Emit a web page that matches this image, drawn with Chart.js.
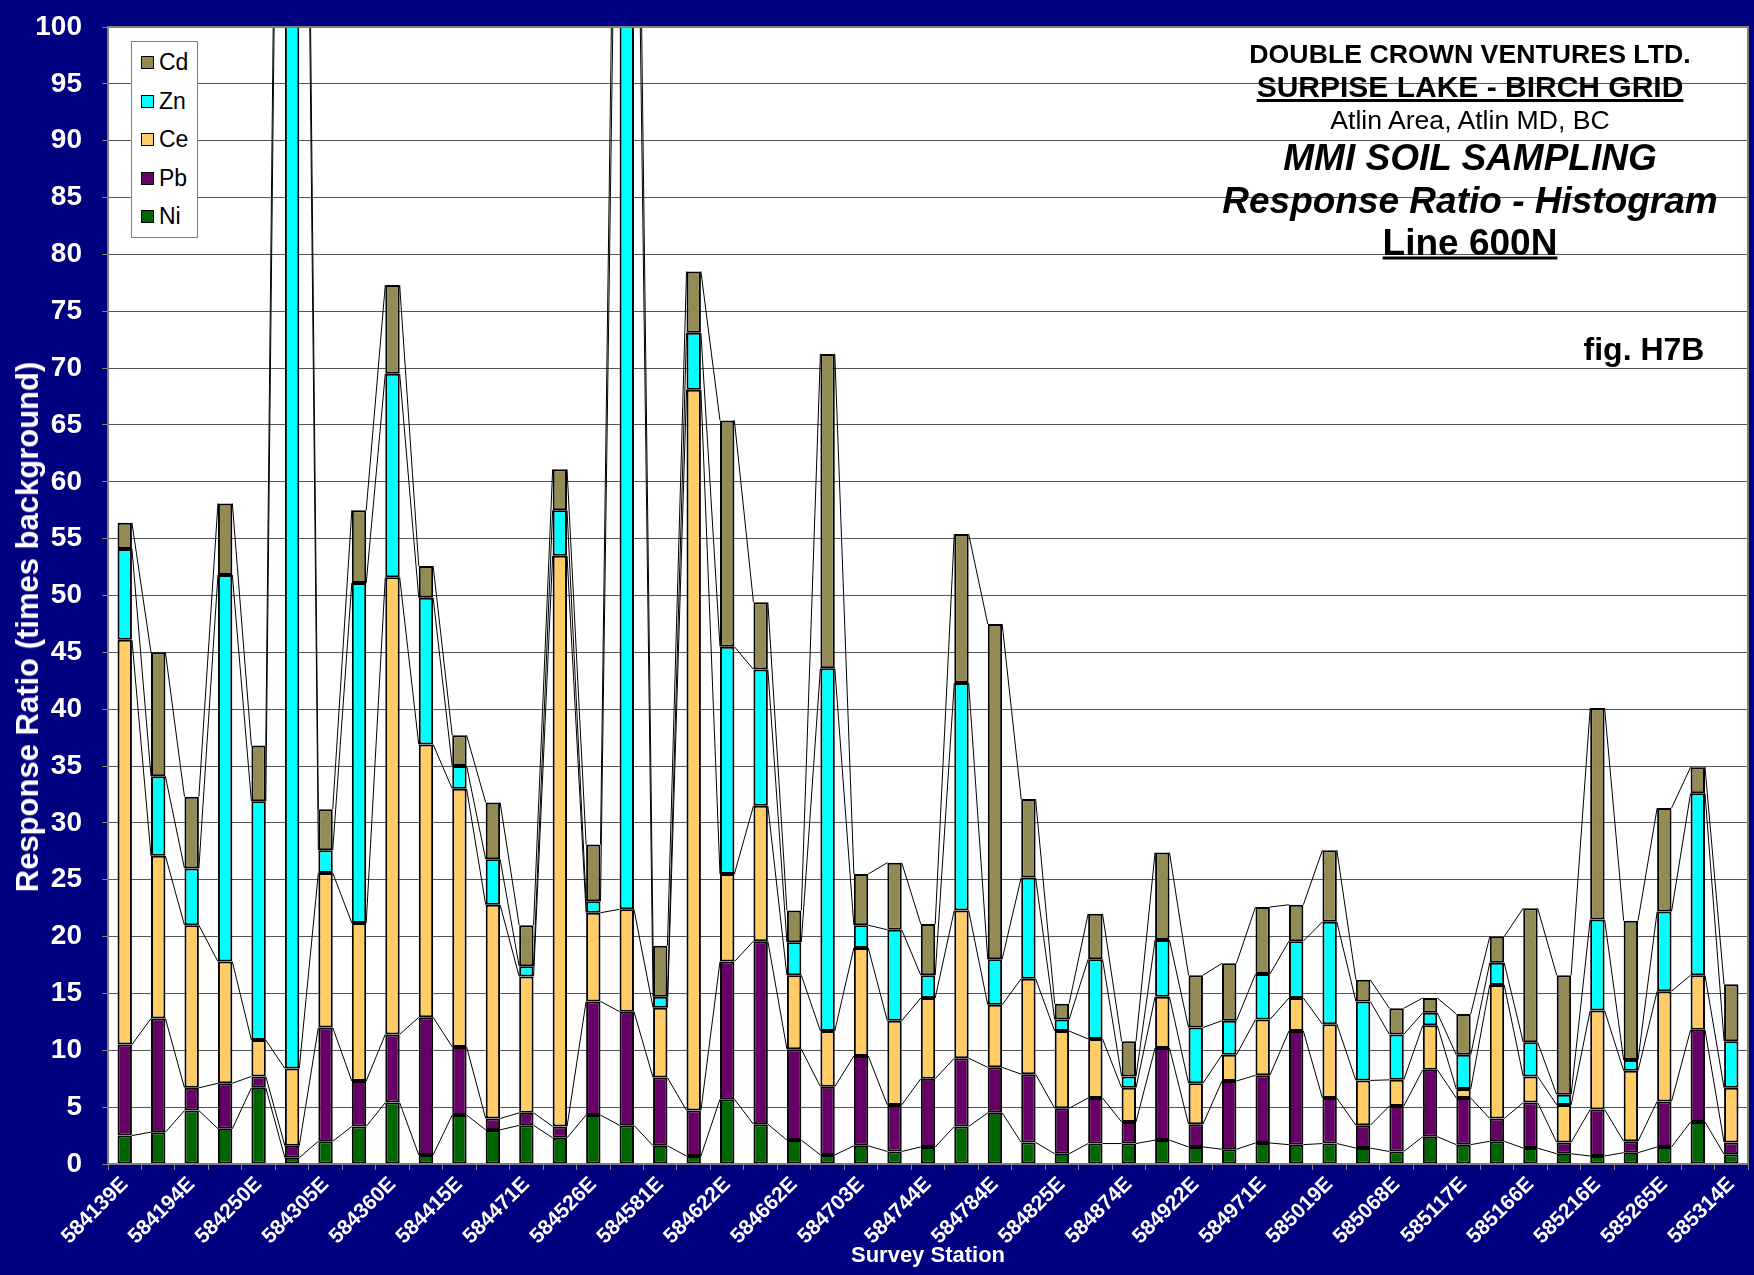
<!DOCTYPE html>
<html>
<head>
<meta charset="utf-8">
<script src="https://cdn.jsdelivr.net/npm/chart.js@4/dist/chart.umd.min.js"></script>
<style>
  body { margin: 0; background: #000080; }
  #wrap { position: relative; width: 1754px; height: 1275px; overflow: hidden; font-family: Arial, "Liberation Sans", sans-serif; }
  #myChart { position: absolute; left: 0; top: 0; }
  .ytitle {
    position: absolute; left: 28px; top: 627px; color: #fff; font-weight: bold; font-size: 31px;
    white-space: nowrap; transform: translate(-50%, -50%) rotate(-90deg);
  }
  .legend {
    position: absolute; left: 131px; top: 41px; width: 65px; height: 195px;
    background: #fff; border: 1px solid #808080;
  }
  .legend .item { position: absolute; left: 9px; height: 26px; line-height: 26px; font-size: 23px; color: #000; white-space: nowrap; }
  .legend .box { display: inline-block; width: 11px; height: 11px; border: 1.5px solid #000; margin-right: 5px; vertical-align: 1px; }
  .t { position: absolute; transform: translate(-50%, -50%); white-space: nowrap; color: #000; line-height: 1; }
</style>
</head>
<body>
<div id="wrap">
  <canvas id="myChart" width="1754" height="1275"></canvas>
  <div class="ytitle">Response Ratio (times background)</div>
  <div class="legend" id="legend"></div>
  <div class="t" style="left:1470px;top:54px;font-size:26.7px;font-weight:bold;">DOUBLE CROWN VENTURES LTD.</div>
  <div class="t" style="left:1470px;top:87px;font-size:30px;font-weight:bold;text-decoration:underline;">SURPISE LAKE - BIRCH GRID</div>
  <div class="t" style="left:1470px;top:120px;font-size:26.6px;">Atlin Area, Atlin MD, BC</div>
  <div class="t" style="left:1470px;top:157px;font-size:37px;font-weight:bold;font-style:italic;">MMI SOIL SAMPLING</div>
  <div class="t" style="left:1470px;top:200px;font-size:37px;font-weight:bold;font-style:italic;">Response Ratio - Histogram</div>
  <div class="t" style="left:1470px;top:242px;font-size:37px;font-weight:bold;text-decoration:underline;">Line 600N</div>
  <div class="t" style="left:1644px;top:349px;font-size:32px;font-weight:bold;">fig. H7B</div>
</div>
<script>
// survey stations (every second one is labelled on the axis)
const stations = [
  "584139E", "", "584194E", "", "584250E", "", "584305E", "", "584360E", "",
  "584415E", "", "584471E", "", "584526E", "", "584581E", "", "584622E", "",
  "584662E", "", "584703E", "", "584744E", "", "584784E", "", "584825E", "",
  "584874E", "", "584922E", "", "584971E", "", "585019E", "", "585068E", "",
  "585117E", "", "585166E", "", "585216E", "", "585265E", "", "585314E",
];

const yTicks = [0, 5, 10, 15, 20, 25, 30, 35, 40, 45, 50, 55, 60, 65, 70, 75, 80, 85, 90, 95, 100];

// response ratios, bottom of stack first
const ni = [
  2.5, 2.8, 4.7, 3.1, 6.7, 0.55, 2.0, 3.3, 5.4, 0.8,
  4.3, 3.0, 3.4, 2.3, 4.3, 3.4, 1.6, 0.7, 5.7, 3.5,
  2.1, 0.8, 1.6, 1.1, 1.5, 3.3, 4.5, 1.9, 0.9, 1.8,
  1.8, 2.1, 1.5, 1.3, 1.85, 1.7, 1.8, 1.4, 1.1, 2.4,
  1.7, 2.0, 1.4, 0.9, 0.7, 1.0, 1.5, 3.7, 0.85,
];
const pb = [
  8.0, 10.0, 2.0, 4.0, 1.0, 1.05, 10.0, 4.0, 6.0, 12.1,
  6.0, 1.0, 1.1, 1.0, 10.0, 10.0, 6.0, 4.0, 12.1, 16.1,
  8.0, 6.0, 7.9, 4.1, 6.0, 6.0, 4.0, 6.0, 4.0, 4.0,
  1.9, 8.1, 2.0, 6.0, 5.95, 10.0, 4.0, 2.0, 4.0, 5.9,
  4.1, 2.0, 4.0, 1.0, 4.1, 1.0, 4.0, 8.1, 1.05,
];
const ce = [
  35.6, 14.3, 14.3, 10.7, 3.2, 6.8, 13.6, 13.9, 40.2, 24.0,
  22.7, 18.8, 12.0, 50.2, 7.8, 9.0, 6.15, 63.4, 7.7, 11.9,
  6.5, 4.9, 9.5, 7.4, 7.1, 13.0, 5.5, 8.4, 6.8, 5.2,
  3.0, 4.5, 3.6, 2.3, 4.9, 2.9, 6.5, 3.95, 2.3, 3.9,
  0.8, 11.75, 2.3, 3.3, 8.7, 6.2, 9.7, 4.8, 4.8,
];
const zn = [
  8.0, 7.0, 5.0, 34.0, 21.0, 180, 2.0, 29.9, 17.9, 12.9,
  2.0, 4.0, 0.9, 4.0, 1.0, 120, 0.95, 5.0, 20.0, 12.0,
  2.9, 31.9, 2.0, 8.0, 2.0, 20.0, 4.0, 8.9, 1.0, 7.0,
  1.0, 5.0, 4.9, 3.0, 4.0, 5.0, 9.0, 6.95, 4.0, 1.1,
  3.0, 1.95, 3.0, 0.9, 8.0, 0.95, 7.0, 16.0, 4.1,
];
const cd = [
  2.3, 10.9, 6.3, 6.3, 4.9, 12, 3.6, 6.4, 7.8, 2.8,
  2.7, 5.0, 3.6, 3.6, 5.0, 12, 4.5, 5.4, 19.9, 5.9,
  2.8, 27.65, 4.5, 5.9, 4.5, 13.1, 29.5, 6.9, 1.4, 4.0,
  3.1, 7.7, 4.6, 5.05, 5.9, 3.2, 6.3, 1.9, 2.3, 1.3,
  3.6, 2.3, 11.8, 10.5, 18.6, 12.25, 9.1, 2.3, 5.0,
];

const seriesNames = ["Ni", "Pb", "Ce", "Zn", "Cd"];
const seriesColors = ["#006600", "#660066", "#FFCC66", "#00FFFF", "#948A54"];
const seriesData = [ni, pb, ce, zn, cd];

// legend (top of stack first, like the original)
const legend = document.getElementById("legend");
for (let k = seriesNames.length - 1, row = 0; k >= 0; k--, row++) {
  const item = document.createElement("div");
  item.className = "item";
  item.style.top = 7 + row * 38.5 + "px";
  item.innerHTML = `<span class="box" style="background:${seriesColors[k]}"></span>${seriesNames[k]}`;
  legend.appendChild(item);
}

// white plot area + grey frame
const plotArea = {
  id: "plotArea",
  beforeDraw(chart) {
    const { ctx, chartArea: a } = chart;
    ctx.save();
    ctx.fillStyle = "#fff";
    ctx.fillRect(a.left, a.top, a.right - a.left, a.bottom - a.top);
    ctx.restore();
  },
  afterDraw(chart) {
    const { ctx, chartArea: a } = chart;
    ctx.save();
    ctx.strokeStyle = "#808080";
    ctx.lineWidth = 2;
    ctx.strokeRect(a.left, a.top, a.right - a.left, a.bottom - a.top);
    ctx.restore();
  },
};

// excel style series lines joining the segment tops of neighbouring bars
const seriesLines = {
  id: "seriesLines",
  afterDatasetsDraw(chart) {
    const { ctx, chartArea: a } = chart;
    ctx.save();
    ctx.beginPath();
    ctx.rect(a.left, a.top, a.right - a.left, a.bottom - a.top);
    ctx.clip();
    ctx.strokeStyle = "#000";
    ctx.lineWidth = 1;
    chart.data.datasets.forEach((ds, i) => {
      const bars = chart.getDatasetMeta(i).data;
      ctx.beginPath();
      for (let j = 0; j < bars.length - 1; j++) {
        const p = bars[j];
        const q = bars[j + 1];
        ctx.moveTo(p.x + p.width / 2, p.y);
        ctx.lineTo(q.x - q.width / 2, q.y);
      }
      ctx.stroke();
    });
    ctx.restore();
  },
};

const myChart = new Chart("myChart", {
  type: "bar",
  data: {
    labels: stations,
    datasets: seriesNames.map((name, k) => ({
      label: name,
      data: seriesData[k],
      backgroundColor: seriesColors[k],
      borderColor: "#000",
      borderWidth: 2,
      borderSkipped: false,
      barPercentage: 0.43,
      categoryPercentage: 1.0,
    })),
  },
  options: {
    responsive: false,
    animation: false,
    devicePixelRatio: 1,
    layout: { padding: { top: 27, right: 6, left: 0, bottom: 0 } },
    scales: {
      x: {
        stacked: true,
        afterFit: (scale) => {
          scale.height = 111;
          scale.paddingLeft = 0;
          scale.paddingRight = 0;
        },
        grid: { drawOnChartArea: false, color: "#808080", tickLength: 6, offset: true },
        border: { color: "#808080", width: 2 },
        ticks: {
          autoSkip: false,
          minRotation: 45,
          maxRotation: 45,
          padding: 2,
          color: "#fff",
          font: { family: "Arial, 'Liberation Sans', sans-serif", size: 21, weight: "bold" },
          callback: (v, i) => stations[i],
        },
        title: {
          display: true,
          text: "Survey Station",
          color: "#fff",
          font: { family: "Arial, 'Liberation Sans', sans-serif", size: 22, weight: "bold" },
          padding: { top: 0, bottom: 6 },
        },
      },
      y: {
        stacked: true,
        min: 0,
        max: 100,
        afterFit: (scale) => {
          scale.width = 108;
          scale.paddingTop = 0;
          scale.paddingBottom = 0;
        },
        afterBuildTicks: (scale) => { scale.ticks = yTicks.map((v) => ({ value: v })); },
        grid: { color: "#555", tickLength: 6, tickColor: "#808080" },
        border: { display: false },
        ticks: {
          padding: 20,
          color: "#fff",
          font: { family: "Arial, 'Liberation Sans', sans-serif", size: 28, weight: "bold" },
        },
      },
    },
    plugins: {
      legend: { display: false },
      tooltip: { enabled: false },
    },
  },
  plugins: [plotArea, seriesLines],
});
</script>
</body>
</html>
